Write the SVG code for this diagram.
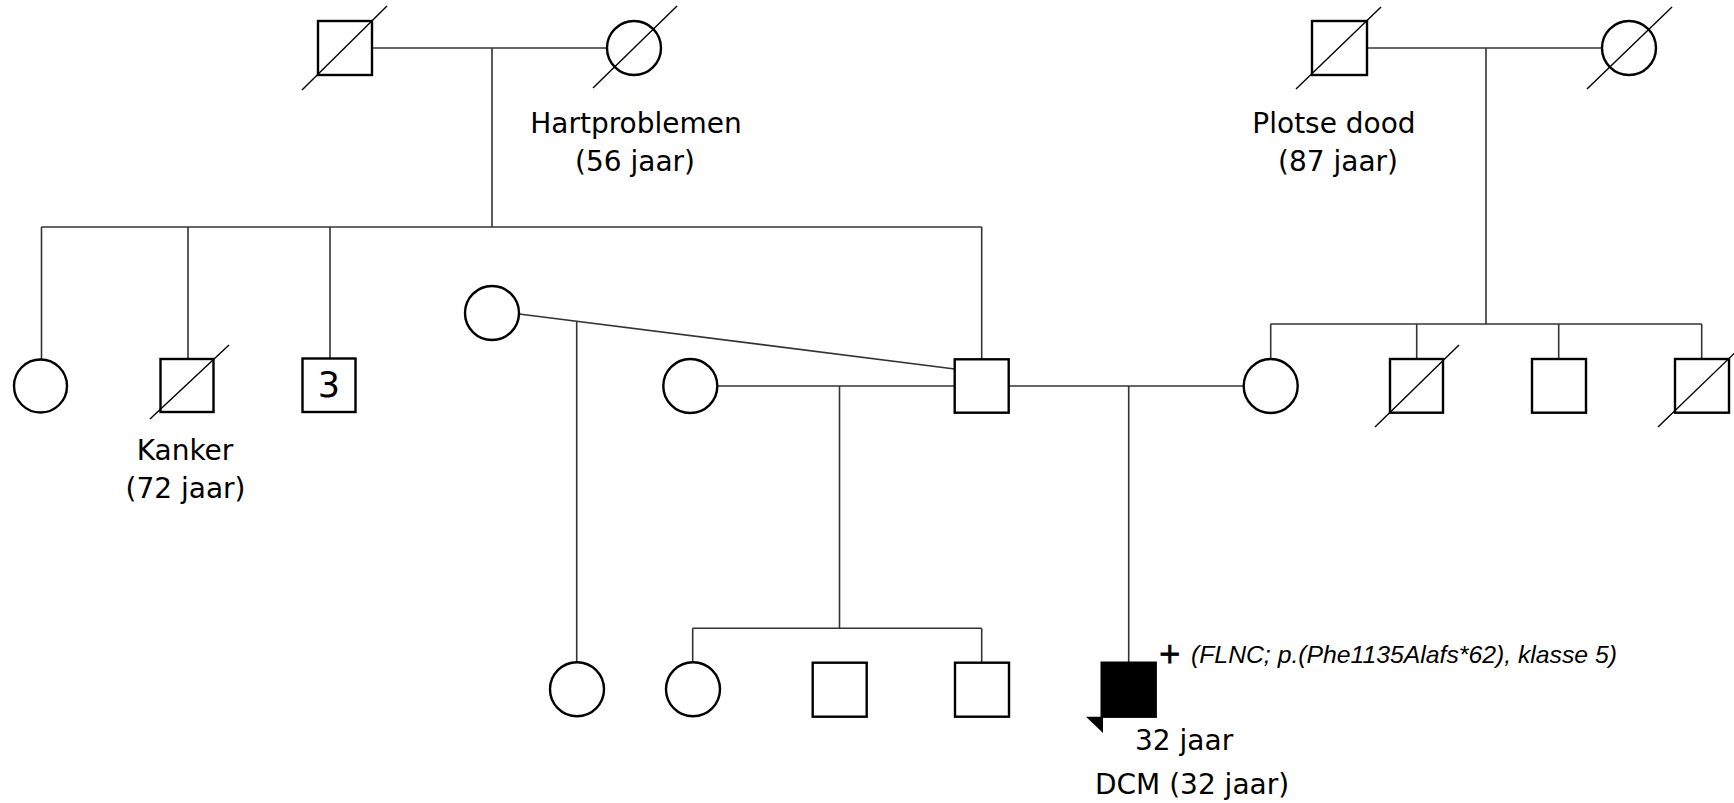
<svg xmlns="http://www.w3.org/2000/svg" width="1734" height="803" viewBox="0 0 1734 803">
<style>
.node{fill:#fff;stroke:#000;stroke-width:2.4}
.aff{fill:#000;stroke:#000;stroke-width:2.4}
.dead{stroke:#000;stroke-width:1.4;fill:none}
.conn line,.conn polyline{stroke:#333;stroke-width:1.6;fill:none}
.lbl{font-family:"DejaVu Sans",sans-serif;font-size:28px;fill:#000}
.var{font-family:"Liberation Sans",Arial,sans-serif;font-size:24px;font-style:italic;fill:#000}
</style>
<rect width="1734" height="803" fill="#fff"/>
<g class="conn" id="connectors">
<line x1="372" y1="48" x2="607" y2="48"/>
<line x1="492" y1="48" x2="492" y2="227"/>
<line x1="41.5" y1="227" x2="981.7" y2="227"/>
<line x1="41.5" y1="227" x2="41.5" y2="359"/>
<line x1="188" y1="227" x2="188" y2="359"/>
<line x1="330" y1="227" x2="330" y2="359"/>
<line x1="981.7" y1="227" x2="981.7" y2="359"/>
<line x1="1367" y1="48" x2="1602" y2="48"/>
<line x1="1486" y1="48" x2="1486" y2="324"/>
<line x1="1270.7" y1="324" x2="1701.7" y2="324"/>
<line x1="1270.7" y1="324" x2="1270.7" y2="359"/>
<line x1="1416.7" y1="324" x2="1416.7" y2="359"/>
<line x1="1558.7" y1="324" x2="1558.7" y2="359"/>
<line x1="1701.7" y1="324" x2="1701.7" y2="359"/>
<line x1="519" y1="314" x2="954.7" y2="369"/>
<line x1="576.7" y1="321.3" x2="576.7" y2="662"/>
<line x1="717" y1="386" x2="954.7" y2="386"/>
<line x1="839.5" y1="386" x2="839.5" y2="628.3"/>
<line x1="692.7" y1="628.3" x2="981.7" y2="628.3"/>
<line x1="692.7" y1="628.3" x2="692.7" y2="662.7"/>
<line x1="981.7" y1="628.3" x2="981.7" y2="662.7"/>
<line x1="1008.7" y1="386" x2="1244" y2="386"/>
<line x1="1128.7" y1="386" x2="1128.7" y2="662.7"/>
</g>
<g id="n-gp1-father"><rect class="node" x="318" y="21" width="54" height="54"/><line class="dead" x1="302" y1="90" x2="387" y2="6"/></g>
<g id="n-gp1-mother"><circle class="node" cx="634" cy="48" r="27"/><line class="dead" x1="593" y1="88" x2="677" y2="6"/>
<text class="lbl" x="636" y="132.7" text-anchor="middle">Hartproblemen</text>
<text class="lbl" x="635" y="170.7" text-anchor="middle">(56 jaar)</text></g>
<g id="n-gp2-father"><rect class="node" x="1312" y="21" width="55" height="54"/><line class="dead" x1="1296" y1="89" x2="1381" y2="7"/>
<text class="lbl" x="1334" y="132.7" text-anchor="middle">Plotse dood</text>
<text class="lbl" x="1338" y="170.7" text-anchor="middle">(87 jaar)</text></g>
<g id="n-gp2-mother"><circle class="node" cx="1629" cy="48" r="27"/><line class="dead" x1="1587" y1="89" x2="1672" y2="7"/></g>
<g id="n-aunt1"><circle class="node" cx="40.5" cy="386" r="26.5"/></g>
<g id="n-uncle1"><rect class="node" x="160.5" y="359" width="53" height="53"/><line class="dead" x1="150" y1="419" x2="229" y2="345"/>
<text class="lbl" x="185" y="459.5" text-anchor="middle">Kanker</text>
<text class="lbl" x="185.5" y="497.5" text-anchor="middle">(72 jaar)</text></g>
<g id="n-uncles3"><rect class="node" x="302.5" y="358.5" width="53" height="53.5"/>
<text class="lbl" x="329" y="397.3" text-anchor="middle" style="font-size:35px">3</text></g>
<g id="n-ex1"><circle class="node" cx="492" cy="313" r="27"/></g>
<g id="n-ex2"><circle class="node" cx="690.3" cy="386" r="27"/></g>
<g id="n-father"><rect class="node" x="954.7" y="359.3" width="54" height="53.4"/></g>
<g id="n-mother"><circle class="node" cx="1270.7" cy="386" r="27"/></g>
<g id="n-maunt"><rect class="node" x="1390" y="359" width="53" height="53.7"/><line class="dead" x1="1375" y1="427" x2="1459" y2="345"/></g>
<g id="n-muncle2"><rect class="node" x="1532" y="359" width="54" height="53.7"/></g>
<g id="n-muncle3"><rect class="node" x="1675" y="359" width="54" height="53.7"/><line class="dead" x1="1658" y1="427" x2="1745" y2="343"/></g>
<g id="n-halfsis1"><circle class="node" cx="577" cy="689.3" r="27"/></g>
<g id="n-halfsis2"><circle class="node" cx="693" cy="689.3" r="27"/></g>
<g id="n-halfbro1"><rect class="node" x="812.7" y="662.7" width="54" height="54"/></g>
<g id="n-halfbro2"><rect class="node" x="955" y="662.7" width="54" height="54"/></g>
<g id="n-proband"><rect class="aff" x="1101.7" y="662.7" width="54" height="54"/>
<polygon points="1086,716.7 1103,716.7 1103,733" fill="#000"/>
<text class="lbl" x="1158" y="663" style="stroke:#000;stroke-width:0.8">+</text>
<text class="var" x="1191" y="663" textLength="426" lengthAdjust="spacingAndGlyphs">(FLNC; p.(Phe1135Alafs*62), klasse 5)</text>
<text class="lbl" x="1135" y="750">32 jaar</text>
<text class="lbl" x="1095" y="794">DCM (32 jaar)</text></g>
</svg>
